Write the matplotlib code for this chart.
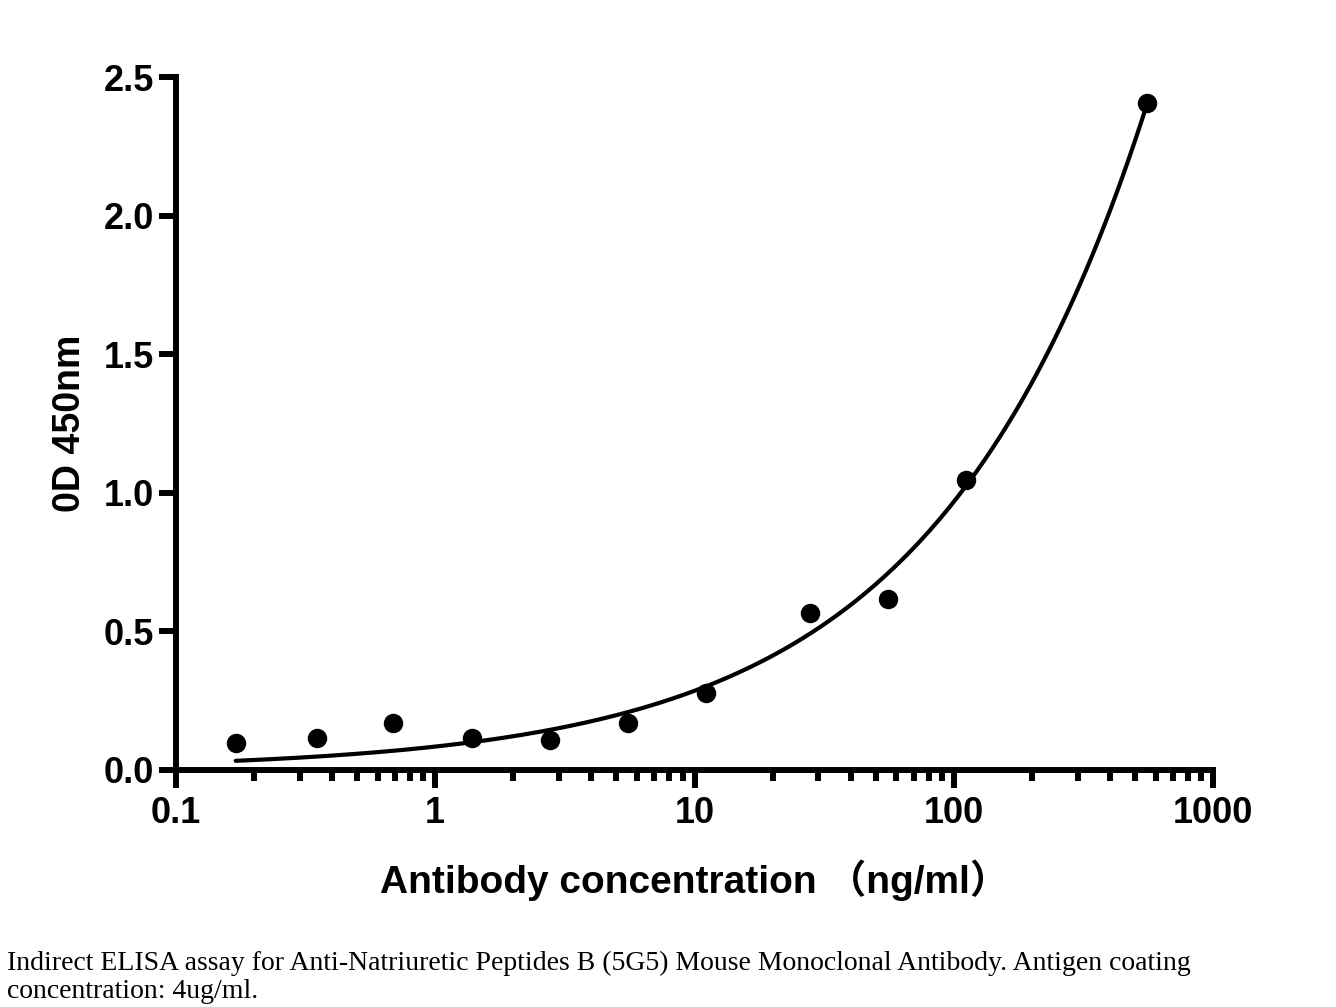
import numpy as np
import matplotlib
matplotlib.use("Agg")
import matplotlib.pyplot as plt
from matplotlib.ticker import FixedLocator, NullFormatter

# ---- data ----
conc = [0.17, 0.35, 0.69, 1.39, 2.78, 5.56, 11.1, 27.8, 55.6, 111.1, 555.6]
od = [0.097, 0.115, 0.170, 0.115, 0.108, 0.170, 0.278, 0.566, 0.617, 1.046, 2.406]
x_ticks = [0.1, 1, 10, 100, 1000]
x_tick_labels = ["0.1", "1", "10", "100", "1000"]
y_ticks = [0.0, 0.5, 1.0, 1.5, 2.0, 2.5]
y_tick_labels = ["0.0", "0.5", "1.0", "1.5", "2.0", "2.5"]
x_label = "Antibody concentration （ng/ml）"
y_label = "0D 450nm"
caption_lines = ["Indirect ELISA assay for Anti-Natriuretic Peptides B (5G5) Mouse Monoclonal Antibody. Antigen coating",
                 "concentration: 4ug/ml."]

# ---- least-squares power-law fit of the data (curve drawn in the reference) ----
xd = np.array(conc)
yd = np.array(od)
best = None
for p in np.linspace(0.2, 1.0, 801):
    f = xd ** p
    c = (f @ yd) / (f @ f)
    err = np.sum((yd - c * f) ** 2)
    if best is None or err < best[0]:
        best = (err, p, c)
_, p_fit, c_fit = best
xf = np.logspace(np.log10(xd.min()), np.log10(xd.max()), 300)
yf = c_fit * xf ** p_fit

fig = plt.figure(figsize=(13.36, 10.07), dpi=100)
ax = fig.add_axes([0.1317, 0.2354, 0.7763, 0.6881])

ax.plot(xf, yf, color="black", lw=3.0, solid_capstyle="round")
ax.plot(conc, od, "o", color="black", ms=13, mec="black")

ax.set_xscale("log")
ax.set_xlim(0.1, 1000)
ax.set_ylim(0, 2.5)

for s in ["top", "right"]:
    ax.spines[s].set_visible(False)
for s in ["left", "bottom"]:
    ax.spines[s].set_linewidth(4.3)
    ax.spines[s].set_capstyle("projecting")

ax.xaxis.set_major_locator(FixedLocator(x_ticks))
ax.set_xticklabels(x_tick_labels)
minors = [m * d for d in [0.1, 1, 10, 100] for m in range(2, 10)]
ax.xaxis.set_minor_locator(FixedLocator(minors))
ax.xaxis.set_minor_formatter(NullFormatter())
ax.set_yticks(y_ticks)
ax.set_yticklabels(y_tick_labels)

ax.tick_params(axis="x", which="major", length=13, width=4.3, direction="out", pad=6)
ax.tick_params(axis="x", which="minor", length=8, width=4.3, direction="out")
ax.tick_params(axis="y", which="major", length=12, width=4.3, direction="out", pad=4)

for lab in ax.get_xticklabels() + ax.get_yticklabels():
    lab.set_fontfamily("Liberation Sans")
    lab.set_fontweight("bold")
    lab.set_fontsize(26)

ax.set_xlabel(x_label, fontsize=28, fontweight="bold",
              family=["Liberation Sans", "Noto Sans CJK SC"], labelpad=20)
ax.set_ylabel(y_label, fontsize=27, fontweight="bold",
              family=["Liberation Sans"], labelpad=11)

fig.text(0.005, (1007 - 970) / 1007, caption_lines[0], fontsize=20,
         family="Liberation Serif", ha="left", va="baseline")
fig.text(0.005, (1007 - 998) / 1007, caption_lines[1], fontsize=20,
         family="Liberation Serif", ha="left", va="baseline")

fig.savefig("out.png", dpi=100, facecolor="white")
